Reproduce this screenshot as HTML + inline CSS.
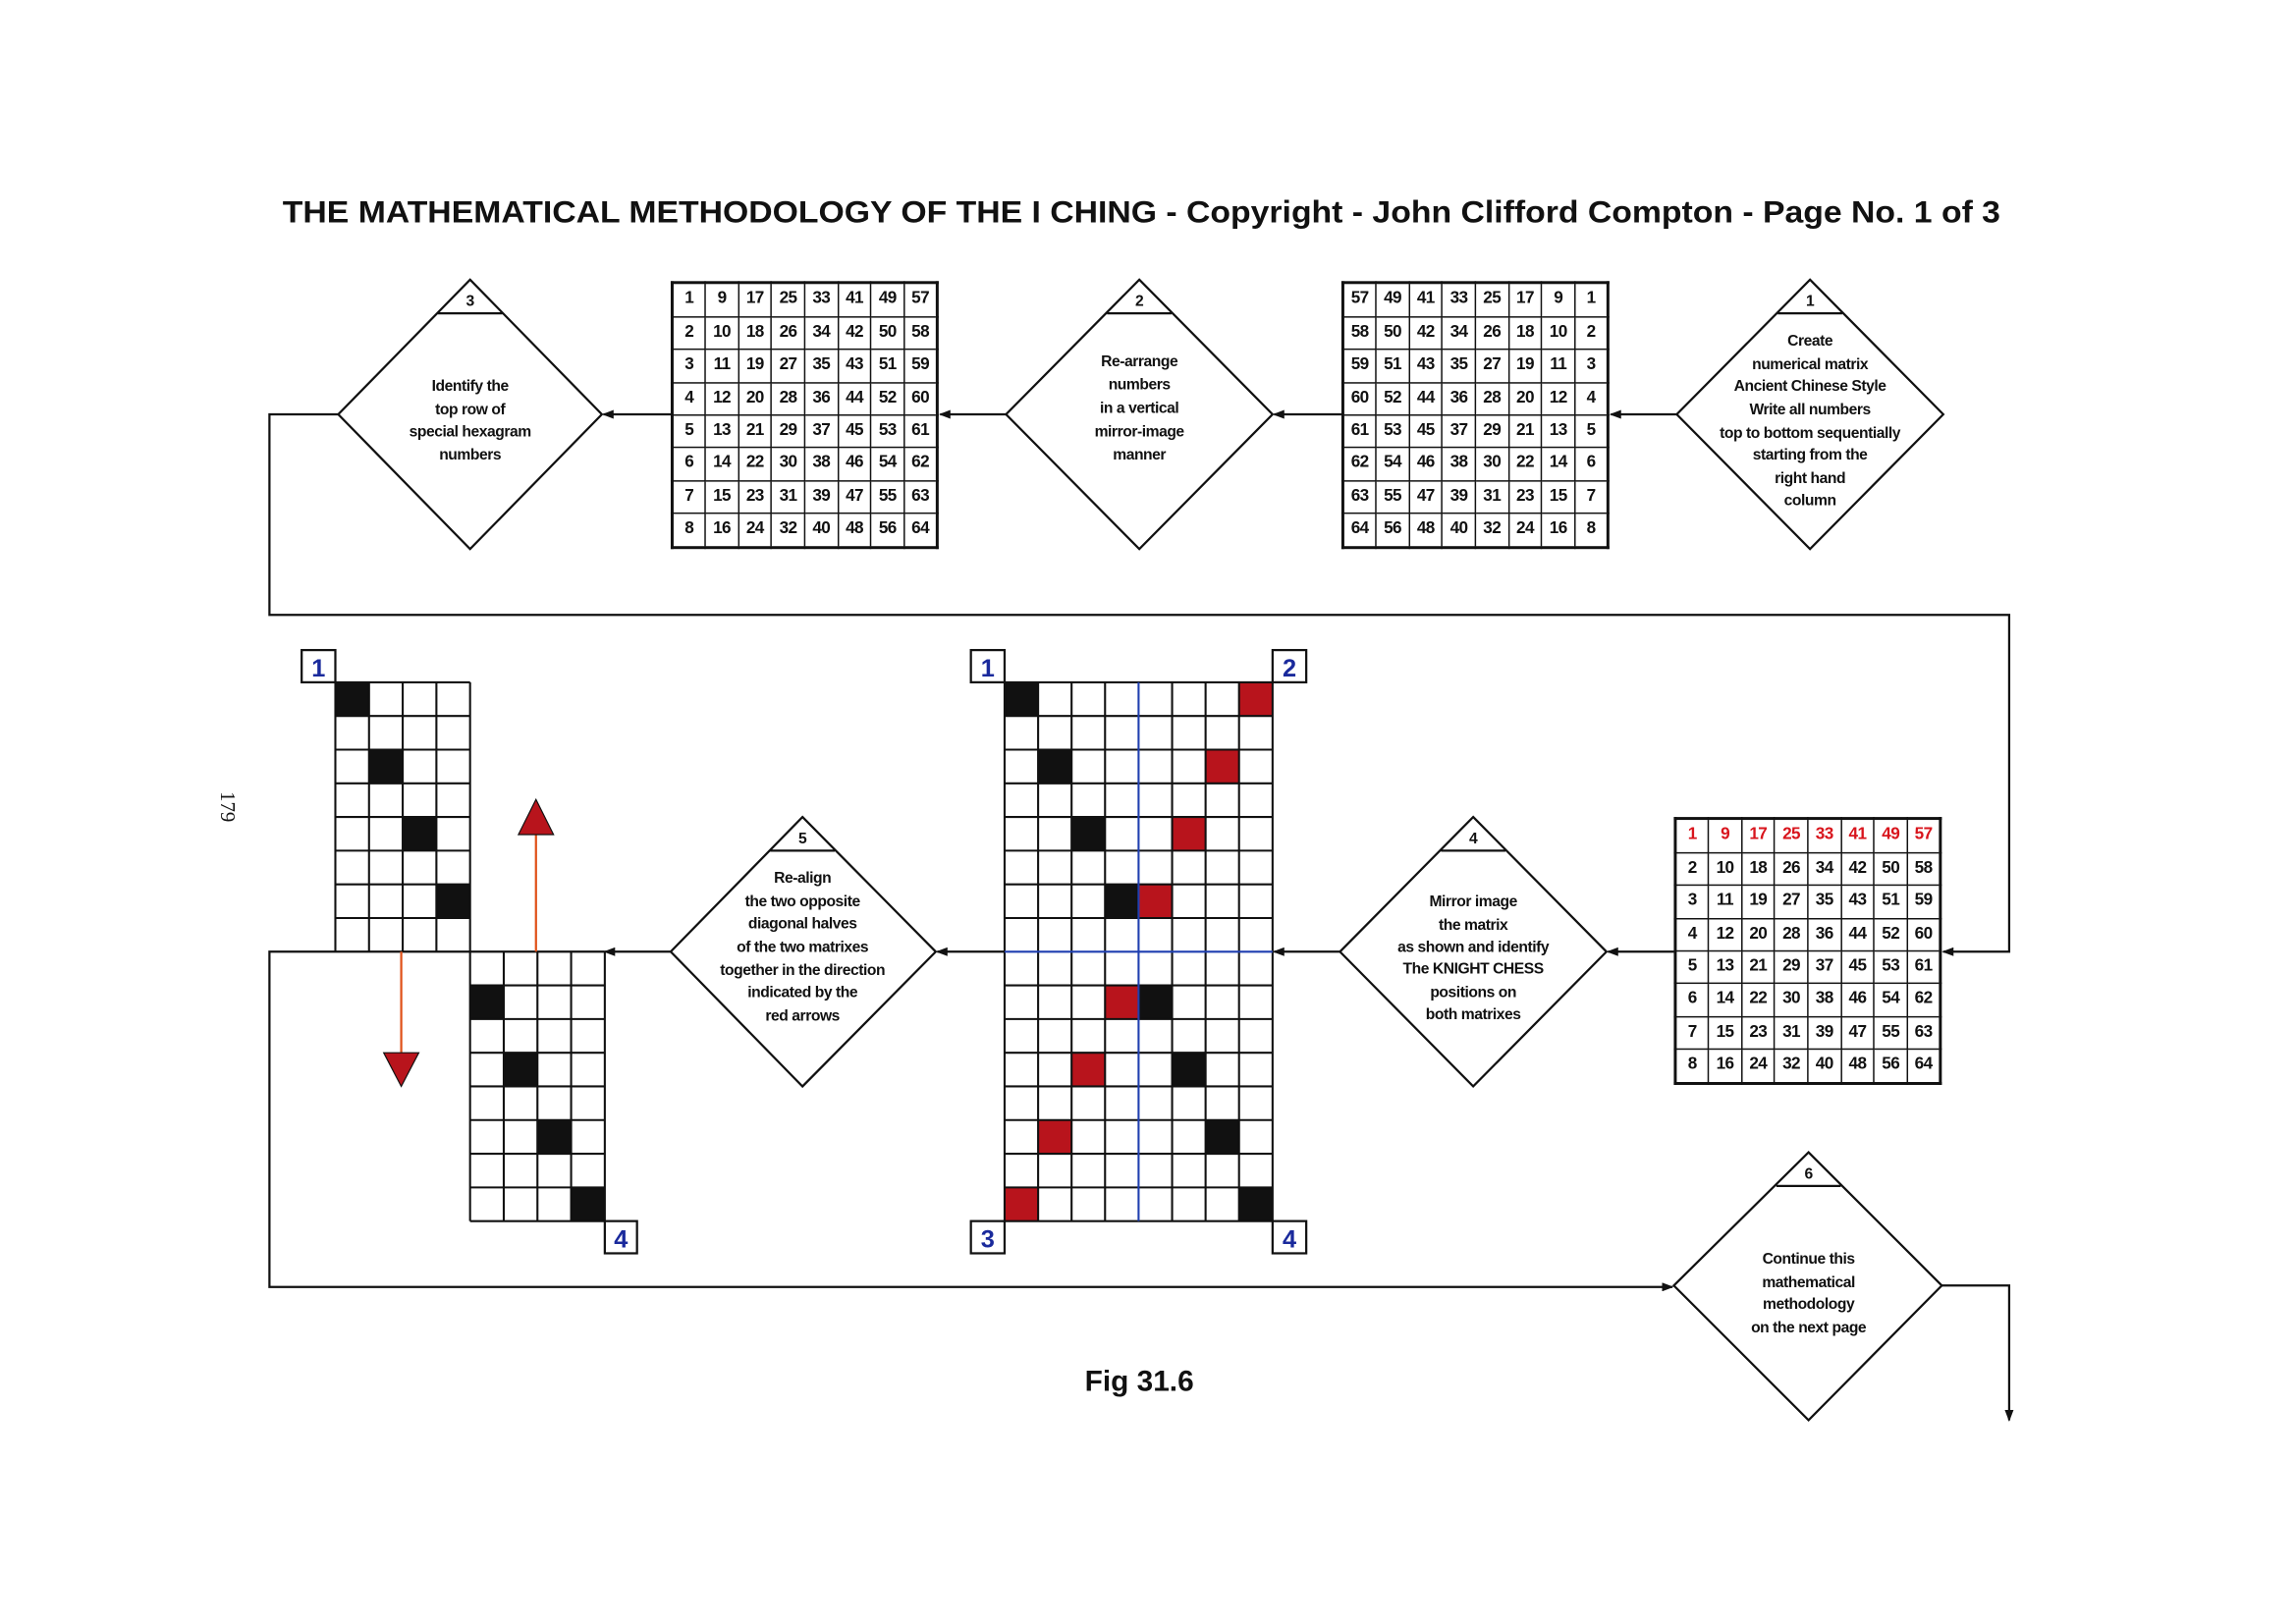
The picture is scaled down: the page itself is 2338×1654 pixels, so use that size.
<!DOCTYPE html>
<html><head><meta charset="utf-8">
<style>
html,body{margin:0;padding:0;background:#fff;}
body{width:2338px;height:1654px;overflow:hidden;position:relative;}
#c{position:absolute;left:0;top:0;width:1568px;height:1109px;transform:scale(1.4912);transform-origin:0 0;font-family:"Liberation Sans",Arial,sans-serif;}
table.g{position:absolute;border-collapse:collapse;width:183px;height:183px;border:2px solid #111;table-layout:fixed;}
table.g td{border:1.3px solid #111;text-align:center;vertical-align:middle;font-weight:bold;font-size:11.5px;padding:0;line-height:1;color:#111;letter-spacing:-0.4px;}
table.g tr.r td{color:#d8141c;}
svg{position:absolute;left:0;top:0;}
</style></head><body><div id="c">
<svg width="1568" height="1109" viewBox="0 0 1568 1109">
<defs>
<marker id="a" markerWidth="8" markerHeight="6" refX="7" refY="3" orient="auto" markerUnits="userSpaceOnUse"><path d="M0,0 L8,3 L0,6z" fill="#111"/></marker>
</defs>
<text x="779.5" y="152" text-anchor="middle" font-weight="bold" font-size="21" textLength="1173" lengthAdjust="spacingAndGlyphs" fill="#111">THE MATHEMATICAL METHODOLOGY OF THE I CHING - Copyright - John Clifford Compton - Page No. 1 of 3</text>
<g stroke="#111" stroke-width="1.5" fill="none">
<path d="M1145 283H1100" marker-end="url(#a)"/>
<path d="M916 283H870" marker-end="url(#a)"/>
<path d="M687 283H642" marker-end="url(#a)"/>
<path d="M458 283H412" marker-end="url(#a)"/>
<path d="M231 283H184V420H1372V650H1327" marker-end="url(#a)"/>
<path d="M1143 650H1098" marker-end="url(#a)"/>
<path d="M915 650H870" marker-end="url(#a)"/>
<path d="M686 650H640" marker-end="url(#a)"/>
<path d="M458 650H413" marker-end="url(#a)"/>
<path d="M413 650H184V879H1142" marker-end="url(#a)"/>
<path d="M1326 878H1372V970" marker-end="url(#a)"/>
<path d="M321 191L411 283L321 375L231 283Z M299 214H343" fill="#fff"/>
<path d="M778 191L869 283L778 375L687 283Z M756 214H800" fill="#fff"/>
<path d="M1236 191L1327 283L1236 375L1145 283Z M1214 214H1258" fill="#fff"/>
<path d="M1006 558L1097 650L1006 742L915 650Z M984 581H1028" fill="#fff"/>
<path d="M548 558L639 650L548 742L458 650Z M526 581H570" fill="#fff"/>
<path d="M1235 787L1326 878L1235 970L1143 878Z M1213 810H1257" fill="#fff"/>
</g>
<g font-weight="bold" font-size="10.5" text-anchor="middle" fill="#111" letter-spacing="-0.3">
<text x="321" y="209">3</text>
<text x="321" y="267">Identify the</text><text x="321" y="283">top row of</text><text x="321" y="298">special hexagram</text><text x="321" y="314">numbers</text>
<text x="778" y="209">2</text>
<text x="778" y="250">Re-arrange</text><text x="778" y="266">numbers</text><text x="778" y="282">in a vertical</text><text x="778" y="298">mirror-image</text><text x="778" y="314">manner</text>
<text x="1236" y="209">1</text>
<text x="1236" y="236">Create</text><text x="1236" y="252">numerical matrix</text><text x="1236" y="267">Ancient Chinese Style</text><text x="1236" y="283">Write all numbers</text><text x="1236" y="299">top to bottom sequentially</text><text x="1236" y="314">starting from  the</text><text x="1236" y="330">right hand</text><text x="1236" y="345">column</text>
<text x="1006" y="576">4</text>
<text x="1006" y="619">Mirror image</text><text x="1006" y="635">the matrix</text><text x="1006" y="650">as shown and identify</text><text x="1006" y="665">The KNIGHT CHESS</text><text x="1006" y="681">positions on</text><text x="1006" y="696">both matrixes</text>
<text x="548" y="576">5</text>
<text x="548" y="603">Re-align</text><text x="548" y="619">the two opposite</text><text x="548" y="634">diagonal halves</text><text x="548" y="650">of the two matrixes</text><text x="548" y="666">together in the direction</text><text x="548" y="681">indicated by the</text><text x="548" y="697">red arrows</text>
<text x="1235" y="805">6</text>
<text x="1235" y="863">Continue this</text><text x="1235" y="879">mathematical</text><text x="1235" y="894">methodology</text><text x="1235" y="910">on the next page</text>
</g>
<g fill="#111">
<rect x="686" y="466" width="23" height="23"/><rect x="708.9" y="512" width="23" height="23"/><rect x="731.75" y="558" width="23" height="23"/><rect x="754.6" y="604" width="23" height="23"/>
<rect x="777.5" y="673" width="23" height="23"/><rect x="800.4" y="719" width="23" height="23"/><rect x="823.25" y="765" width="23" height="23"/><rect x="846.1" y="811" width="23" height="23"/>
<rect x="229" y="466" width="23" height="23"/><rect x="252" y="512" width="23" height="23"/><rect x="275" y="558" width="23" height="23"/><rect x="298" y="604" width="23" height="23"/>
<rect x="321" y="673" width="23" height="23"/><rect x="344" y="719" width="23" height="23"/><rect x="367" y="765" width="23" height="23"/><rect x="390" y="811" width="23" height="23"/>
</g>
<g fill="#b8141c">
<rect x="846.1" y="466" width="23" height="23"/><rect x="823.25" y="512" width="23" height="23"/><rect x="800.4" y="558" width="23" height="23"/><rect x="777.5" y="604" width="23" height="23"/>
<rect x="754.6" y="673" width="23" height="23"/><rect x="731.75" y="719" width="23" height="23"/><rect x="708.9" y="765" width="23" height="23"/><rect x="686" y="811" width="23" height="23"/>
</g>
<g stroke="#111" stroke-width="1.4" fill="none">
<path d="M686 466V834M708.9 466V834M731.75 466V834M754.6 466V834M800.4 466V834M823.25 466V834M846.1 466V834M869 466V834"/>
<path d="M686 466H869M686 489H869M686 512H869M686 535H869M686 558H869M686 581H869M686 604H869M686 627H869M686 673H869M686 696H869M686 719H869M686 742H869M686 765H869M686 788H869M686 811H869M686 834H869"/>
<path d="M229 466V650M252 466V650M275 466V650M298 466V650M321 466V650M229 466H321M229 489H321M229 512H321M229 535H321M229 558H321M229 581H321M229 604H321M229 627H321"/>
<path d="M321 650V834M344 650V834M367 650V834M390 650V834M413 650V834M321 673H413M321 696H413M321 719H413M321 742H413M321 765H413M321 788H413M321 811H413M321 834H413"/>
</g>
<g stroke="#1f3fb0" stroke-width="1.4"><path d="M777.5 466V834M686 650H869"/></g>
<g stroke="#e0521a" stroke-width="1.5"><path d="M274 650V720M366 650V568"/></g>
<g fill="#b8141c" stroke="#111" stroke-width="0.8"><path d="M262 719H286L274 742Z"/><path d="M354 570H378L366 546Z"/></g>
<g fill="#fff" stroke="#111" stroke-width="1.5">
<rect x="206" y="444" width="23" height="22"/><rect x="413" y="834" width="22" height="22"/>
<rect x="663" y="444" width="23" height="22"/><rect x="869" y="444" width="23" height="22"/>
<rect x="663" y="834" width="23" height="22"/><rect x="869" y="834" width="23" height="22"/>
</g>
<g fill="#1a2a9c" font-weight="bold" font-size="17" text-anchor="middle">
<text x="217.5" y="462">1</text><text x="424" y="852">4</text>
<text x="674.5" y="462">1</text><text x="880.5" y="462">2</text>
<text x="674.5" y="852">3</text><text x="880.5" y="852">4</text>
</g>
<text x="778" y="950" text-anchor="middle" font-weight="bold" font-size="20" fill="#111">Fig 31.6</text>
<text transform="translate(151,551) rotate(90)" text-anchor="middle" font-family="Liberation Serif,serif" font-size="14" fill="#111">179</text>
</svg>

<table class="g" style="left:458px;top:192px">
<tr><td>1<td>9<td>17<td>25<td>33<td>41<td>49<td>57</tr>
<tr><td>2<td>10<td>18<td>26<td>34<td>42<td>50<td>58</tr>
<tr><td>3<td>11<td>19<td>27<td>35<td>43<td>51<td>59</tr>
<tr><td>4<td>12<td>20<td>28<td>36<td>44<td>52<td>60</tr>
<tr><td>5<td>13<td>21<td>29<td>37<td>45<td>53<td>61</tr>
<tr><td>6<td>14<td>22<td>30<td>38<td>46<td>54<td>62</tr>
<tr><td>7<td>15<td>23<td>31<td>39<td>47<td>55<td>63</tr>
<tr><td>8<td>16<td>24<td>32<td>40<td>48<td>56<td>64</tr>
</table>
<table class="g" style="left:916px;top:192px">
<tr><td>57<td>49<td>41<td>33<td>25<td>17<td>9<td>1</tr>
<tr><td>58<td>50<td>42<td>34<td>26<td>18<td>10<td>2</tr>
<tr><td>59<td>51<td>43<td>35<td>27<td>19<td>11<td>3</tr>
<tr><td>60<td>52<td>44<td>36<td>28<td>20<td>12<td>4</tr>
<tr><td>61<td>53<td>45<td>37<td>29<td>21<td>13<td>5</tr>
<tr><td>62<td>54<td>46<td>38<td>30<td>22<td>14<td>6</tr>
<tr><td>63<td>55<td>47<td>39<td>31<td>23<td>15<td>7</tr>
<tr><td>64<td>56<td>48<td>40<td>32<td>24<td>16<td>8</tr>
</table>
<table class="g" style="left:1143px;top:558px">
<tr class="r"><td>1<td>9<td>17<td>25<td>33<td>41<td>49<td>57</tr>
<tr><td>2<td>10<td>18<td>26<td>34<td>42<td>50<td>58</tr>
<tr><td>3<td>11<td>19<td>27<td>35<td>43<td>51<td>59</tr>
<tr><td>4<td>12<td>20<td>28<td>36<td>44<td>52<td>60</tr>
<tr><td>5<td>13<td>21<td>29<td>37<td>45<td>53<td>61</tr>
<tr><td>6<td>14<td>22<td>30<td>38<td>46<td>54<td>62</tr>
<tr><td>7<td>15<td>23<td>31<td>39<td>47<td>55<td>63</tr>
<tr><td>8<td>16<td>24<td>32<td>40<td>48<td>56<td>64</tr>
</table>
</div></body></html>
